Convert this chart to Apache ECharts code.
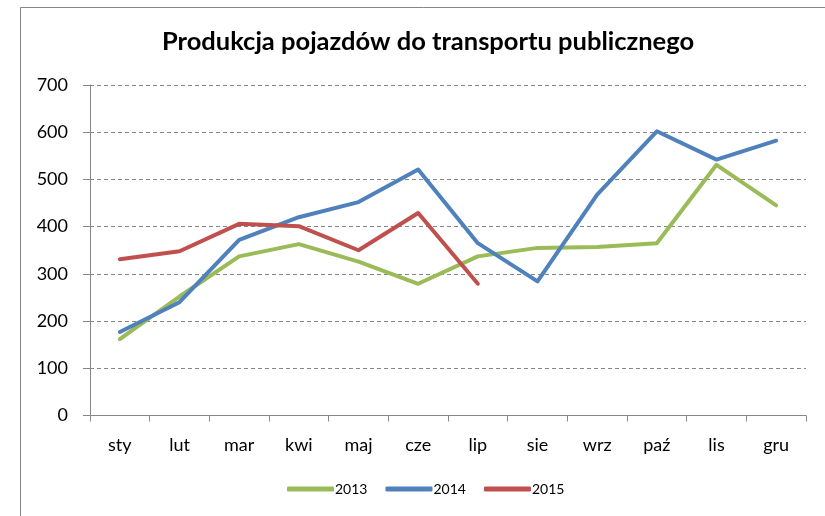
<!DOCTYPE html>
<html>
<head>
<meta charset="utf-8">
<script src="https://cdn.jsdelivr.net/npm/echarts@6/dist/echarts.min.js"></script>
<style>
  html, body { margin: 0; padding: 0; background: #fff; }
  #chart { width: 825px; height: 516px; }
</style>
</head>
<body>
<div id="chart"></div>
<script>
// months and yearly values
var months = ['sty', 'lut', 'mar', 'kwi', 'maj', 'cze', 'lip', 'sie', 'wrz', 'paź', 'lis', 'gru']
var y2013 = [162, 252, 337, 363, 326, 279, 337, 355, 357, 365, 531, 445]
var y2014 = [177, 240, 372, 420, 452, 521, 365, 284, 468, 602, 542, 582]
var y2015 = [331, 348, 406, 401, 350, 429, 279]
var yTicks = [0, 100, 200, 300, 400, 500, 600, 700]

var grey = '#868686'
var font = 'Lato, "Noto Sans", sans-serif'

var chart = echarts.init(document.getElementById('chart'))

function line(name, data, color) {
  return {
    name: name,
    type: 'line',
    data: data,
    symbol: 'none',
    smooth: false,
    lineStyle: { width: 4, color: color, cap: 'round', join: 'round' },
    itemStyle: { color: color }
  }
}

chart.setOption({
  animation: false,
  graphic: [{
    type: 'rect',
    shape: { x: 20.5, y: 7.5, width: 900, height: 600 },
    style: { fill: 'none', stroke: grey, lineWidth: 1 },
    silent: true
  }, {
    // chart title, centred over the whole (wider) frame like the source
    type: 'text',
    x: 428,
    y: 42,
    style: {
      text: 'Produkcja pojazdów do transportu publicznego',
      fontFamily: font,
      fontWeight: 'bold',
      fontSize: 25.5,
      fill: '#000',
      align: 'center',
      verticalAlign: 'middle'
    },
    silent: true
  }],
  legend: {
    top: 482,
    left: 287,
    padding: 0,
    icon: 'roundRect',
    itemWidth: 47,
    itemHeight: 5,
    itemGap: 18,
    textStyle: { fontFamily: font, fontSize: 14, color: '#000', padding: [0, 0, 0, -4] },
    data: ['2013', '2014', '2015']
  },
  grid: { left: 90, right: 19, top: 85, bottom: 100.5 },
  xAxis: {
    type: 'category',
    data: months,
    boundaryGap: true,
    axisLine: { lineStyle: { color: grey, width: 1 } },
    axisTick: { show: true, alignWithLabel: false, length: 6, lineStyle: { color: grey } },
    axisLabel: { margin: 21, fontFamily: font, fontSize: 18, color: '#000', interval: 0 },
    splitLine: { show: false }
  },
  yAxis: {
    type: 'value',
    min: yTicks[0],
    max: yTicks[yTicks.length - 1],
    interval: 100,
    axisLine: { show: true, lineStyle: { color: grey, width: 1 } },
    axisTick: { show: true, length: 7, lineStyle: { color: grey } },
    axisLabel: { margin: 22, fontFamily: font, fontSize: 18, color: '#000' },
    splitLine: { show: true, lineStyle: { color: grey, type: [4, 3], width: 1 } }
  },
  series: [
    line('2013', y2013, '#9BBB59'),
    line('2014', y2014, '#4F81BD'),
    line('2015', y2015, '#C0504D')
  ]
})
</script>
</body>
</html>
